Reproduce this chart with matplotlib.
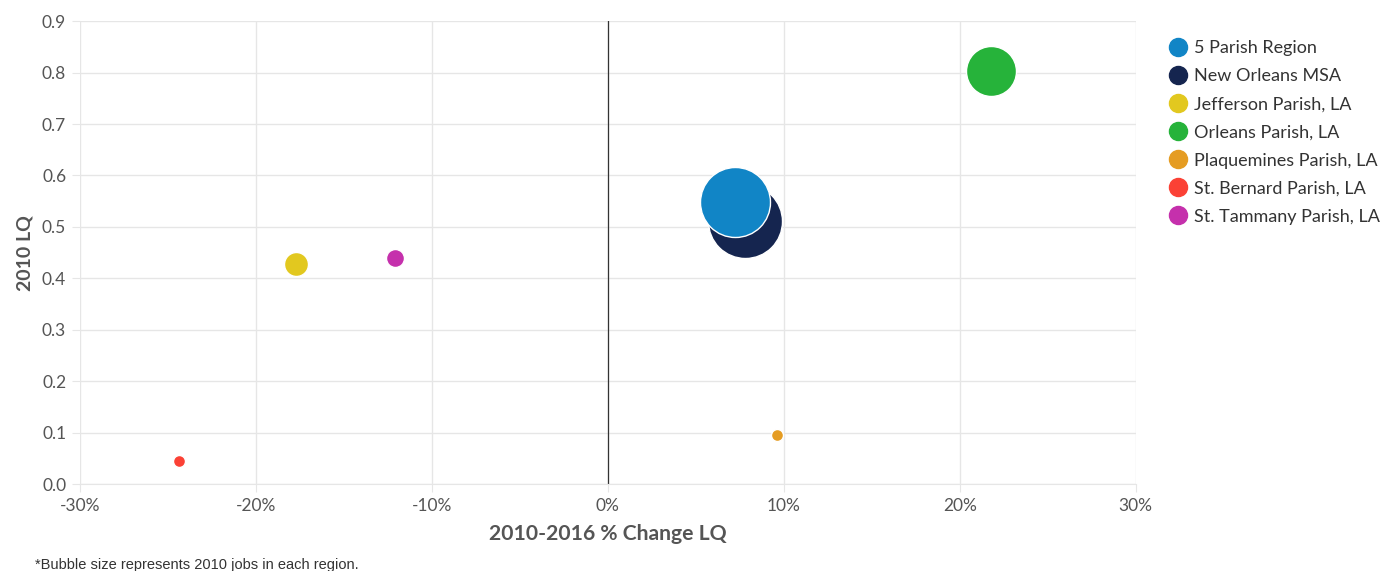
import numpy as np
import matplotlib.pyplot as plt
from matplotlib.lines import Line2D
from matplotlib.ticker import FuncFormatter, MultipleLocator

plt.rcParams['font.family'] = ['Lato', 'DejaVu Sans']

# data
regions = ['5 Parish Region', 'New Orleans MSA', 'Jefferson Parish, LA',
           'Orleans Parish, LA', 'Plaquemines Parish, LA', 'St. Bernard Parish, LA',
           'St. Tammany Parish, LA']
pct_change = [7.2, 7.8, -17.7, 21.8, 9.6, -24.4, -12.1]
lq_2010 = [0.549, 0.512, 0.428, 0.804, 0.095, 0.046, 0.440]
jobs_2010 = [1225, 1370, 144, 625, 36, 36, 81]   # relative, scaled to bubble area
colors = ['#1185c6', '#15254f', '#e2c81f', '#26b33a', '#e59c22', '#fb4135', '#c530ac']

fig = plt.figure(figsize=(13.85, 5.71), dpi=100)
ax = fig.add_axes([0.0578, 0.152, 0.7622, 0.811])

# bubble diameter in px ~ 2*sqrt(jobs); convert to points^2
diam_pt = 2 * np.sqrt(np.array(jobs_2010)) * 0.72
order = [1, 0, 2, 3, 4, 5, 6]
for i in order:
    ax.scatter(pct_change[i], lq_2010[i], s=diam_pt[i] ** 2, color=colors[i],
               edgecolors='white', linewidths=1.0, zorder=3 + (1 if i == 0 else 0))

ax.set_xlim(-30, 30)
ax.set_ylim(0, 0.9)
ax.xaxis.set_major_locator(MultipleLocator(10))
ax.yaxis.set_major_locator(MultipleLocator(0.1))
ax.xaxis.set_major_formatter(FuncFormatter(lambda v, p: '%d%%' % round(v)))
ax.yaxis.set_major_formatter(FuncFormatter(lambda v, p: '%.1f' % v))
ax.grid(True, color='#e6e6e6', linewidth=1)
ax.set_axisbelow(True)
ax.axvline(0, color='#333333', linewidth=0.9, zorder=2)

for s in ['top', 'right', 'left']:
    ax.spines[s].set_visible(False)
ax.spines['bottom'].set_color('#e6e6e6')
ax.tick_params(axis='both', colors='#e6e6e6', labelcolor='#555555', labelsize=12.5, length=6)
ax.tick_params(axis='x', pad=4)
ax.tick_params(axis='y', pad=4)

ax.set_xlabel('2010-2016 % Change LQ', fontsize=15.2, fontweight='bold', color='#555555', labelpad=7)
ax.set_ylabel('2010 LQ', fontsize=14, fontweight='bold', color='#555555', labelpad=6)

handles = [Line2D([0], [0], marker='o', linestyle='', markersize=13, color=c, markeredgecolor=c)
           for c in colors]
leg = fig.legend(handles, regions, loc='upper left', bbox_to_anchor=(0.830, 0.958),
                 frameon=False, fontsize=13, labelspacing=0.67, handletextpad=0.25,
                 handlelength=1.3)
for t in leg.get_texts():
    t.set_color('#333333')

fig.text(0.025, 0.003, '*Bubble size represents 2010 jobs in each region.', fontsize=10.5,
         color='#333333', family=['Liberation Sans Narrow', 'Liberation Sans', 'DejaVu Sans'])

fig.savefig('out.png', dpi=100)
